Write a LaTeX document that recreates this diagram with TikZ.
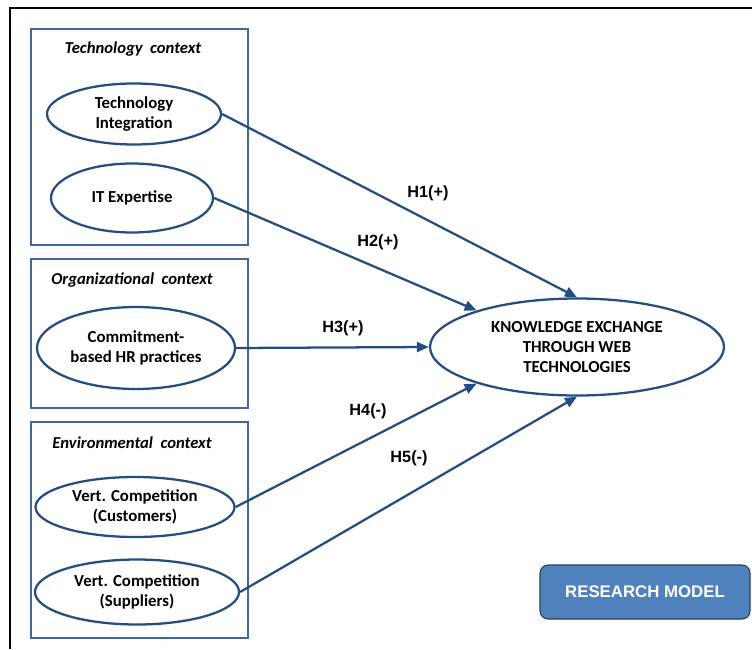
\documentclass[tikz,border=0pt]{standalone}
\usepackage{fontspec}
\setmainfont{Carlito}
\newfontfamily\arialfont{Liberation Sans}
\usetikzlibrary{shapes.geometric,arrows.meta}

\definecolor{frameblue}{HTML}{41689A}
\definecolor{lineblue}{HTML}{254E80}
\definecolor{fillblue}{HTML}{4F81BD}
\definecolor{edgeblue}{HTML}{2B3F5C}

\tikzset{
    factor/.style={ellipse, draw=lineblue, line width=1.7pt, fill=white, inner sep=0pt,
        align=center, font=\fontsize{12.6}{15.2}\selectfont\bfseries},
    ctxtitle/.style={font=\fontsize{12.5}{15}\selectfont\bfseries\itshape},
    hyp/.style={font=\arialfont\fontsize{12.2}{14}\selectfont\bfseries},
    link/.style={draw=lineblue, line width=1.7pt, -{Triangle[length=9pt,width=7.5pt]}}
}

\begin{document}
\begin{tikzpicture}[x=0.75pt, y=-0.75pt]
    \useasboundingbox (0,0) rectangle (752,649);

    % outer frame
    \draw[line width=1.2pt] (10,649) -- (10,8) -- (752,8);

    % context boxes
    \draw[frameblue, line width=1.7pt] (31,29) rectangle (248,245);
    \node[ctxtitle] at (133,49) {Technology\ \ context};

    \draw[frameblue, line width=1.7pt] (31,259) rectangle (248,408);
    \node[ctxtitle] at (132,280) {Organizational\ \ context};

    \draw[frameblue, line width=1.7pt] (31,422) rectangle (248,638);
    \node[ctxtitle] at (132,443) {Environmental\ \ context};

    % constructs
    \node[factor, minimum width=130.5pt, minimum height=45.75pt] (ti) at (134,114) {Technology\\Integration};
    \node[factor, minimum width=121.5pt, minimum height=51.75pt] (it) at (132,198) {IT Expertise};
    \node[factor, minimum width=148.5pt, minimum height=61.5pt] (hr) at (136,348) {Commitment-\\based HR practices};
    \node[factor, minimum width=149.25pt, minimum height=45pt] (vcc) at (135,507) {Vert. Competition\\(Customers)};
    \node[factor, minimum width=153pt, minimum height=48.75pt] (vcs) at (137,592) {Vert. Competition\\(Suppliers)};
    \node[factor, minimum width=220.5pt, minimum height=72.75pt] (ke) at (577,347) {KNOWLEDGE EXCHANGE\\THROUGH WEB\\TECHNOLOGIES};

    % hypotheses
    \draw[link] (ti.east) -- (ke.north);
    \draw[link] (it.east) -- (ke.160);
    \draw[link] (hr.east) -- (ke.west);
    \draw[link] (vcc.east) -- (ke.200);
    \draw[link] (vcs.east) -- (ke.south);

    \node[hyp] (h1) at (428,193) {H1(+)};
    \node[hyp] (h2) at (378,242) {H2(+)};
    \node[hyp] (h3) at (343,328) {H3(+)};
    \node[hyp] (h4) at (368,411) {H4(-)};
    \node[hyp] (h5) at (409,458) {H5(-)};

    % label box
    \node[draw=edgeblue, fill=fillblue, line width=0.8pt, rounded corners=6pt,
        minimum width=157.5pt, minimum height=40.5pt, text=white,
        font=\arialfont\fontsize{12.6}{14}\selectfont\bfseries] (model) at (645,592) {RESEARCH MODEL};
\end{tikzpicture}
\end{document}
